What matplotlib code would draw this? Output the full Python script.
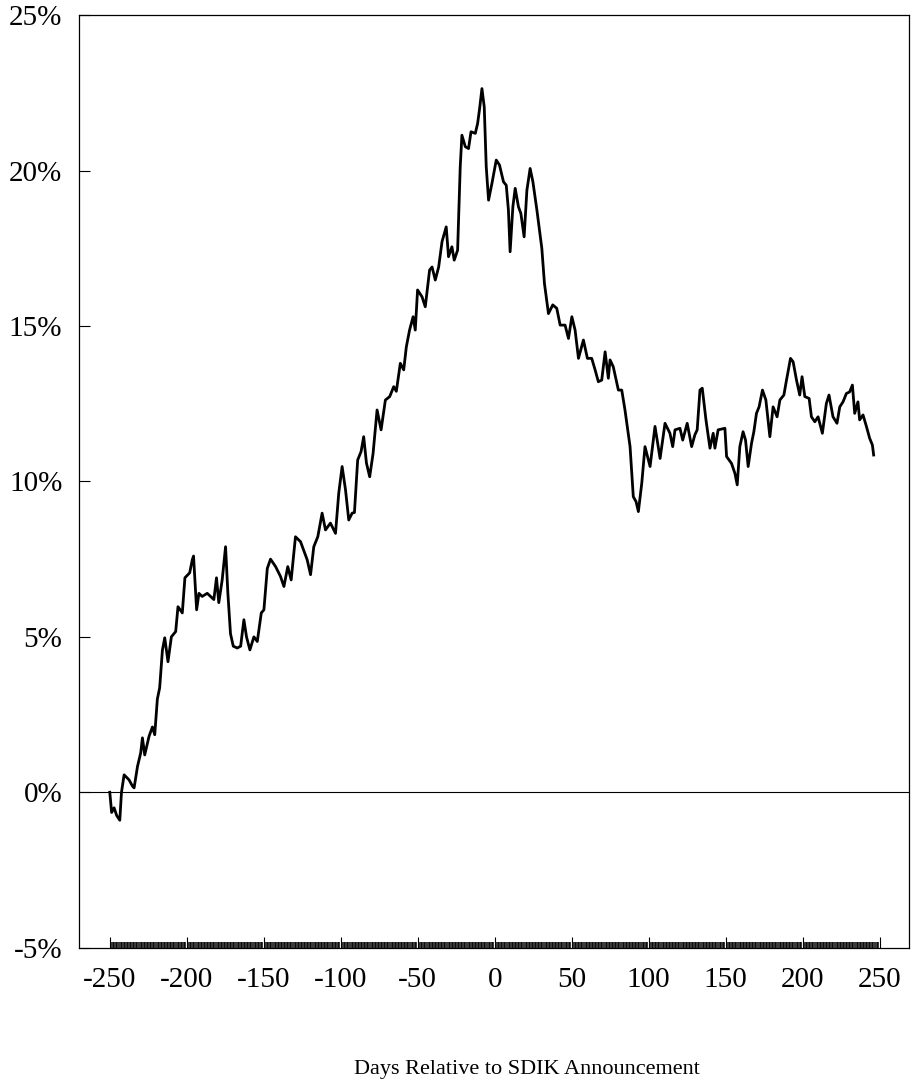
import numpy as np
import matplotlib
matplotlib.use('Agg')
import matplotlib.pyplot as plt
from matplotlib.ticker import FixedLocator, FuncFormatter


# cumulative abnormal return (%), days relative to announcement
DAYS = [
    -250, -248.8, -247.2, -245.5, -243.5, -242.4, -240.7, -237.5, -235.3, -234.2,
    -232.0, -229.9, -228.8, -227.3, -224.5, -222.3, -220.8, -219.1, -217.6, -215.8,
    -214.3, -212.2, -210.0, -207.2, -205.7, -202.9, -201.2, -198.1, -196.4, -195.6,
    -193.6, -192.1, -190.0, -186.7, -184.6, -182.4, -180.7, -179.2, -177.0, -174.8,
    -173.3, -171.6, -169.8, -167.2, -165.0, -162.9, -161.2, -159.0, -156.4, -154.2,
    -151.6, -149.9, -147.7, -145.6, -142.3, -139.1, -136.9, -134.4, -132.2, -129.4,
    -126.1, -121.8, -119.6, -117.5, -114.9, -112.1, -109.9, -106.7, -103.4, -101.3,
    -99.1, -96.9, -94.8, -92.6, -91.1, -89.0, -86.8, -85.1, -83.3, -81.2,
    -79.0, -76.4, -73.8, -71.0, -68.2, -65.6, -63.9, -61.3, -59.1, -57.4,
    -55.3, -53.0, -51.6, -50.1, -47.2, -45.1, -42.3, -40.7, -38.6, -36.4,
    -34.2, -31.5, -30.0, -27.8, -26.3, -24.1, -22.4, -21.3, -19.1, -17.0,
    -15.4, -12.6, -11.1, -9.8, -8.3, -6.8, -5.5, -4.0, -1.8, 1.0,
    3.1, 5.7, 7.5, 8.9, 10.0, 11.8, 13.3, 15.4, 17.0, 19.1,
    20.9, 23.0, 24.8, 27.4, 30.6, 32.3, 34.9, 37.7, 40.3, 42.5,
    45.7, 47.9, 50.1, 52.2, 54.4, 57.6, 60.2, 63.0, 65.2, 67.3,
    69.5, 71.7, 73.8, 74.9, 77.0, 80.3, 82.5, 84.6, 87.9, 90.0,
    91.8, 93.3, 95.5, 97.6, 100.9, 104.1, 107.4, 110.6, 113.8, 115.6,
    117.1, 120.3, 122.1, 125.0, 127.9, 130.0, 131.5, 133.3, 134.8, 137.2,
    139.8, 141.9, 143.0, 145.1, 149.5, 150.6, 153.8, 156.0, 157.5, 159.2,
    161.3, 162.9, 164.6, 166.8, 168.3, 170.0, 171.7, 173.9, 176.1, 178.7,
    180.8, 183.4, 185.2, 187.8, 189.5, 192.1, 193.8, 196.0, 198.1, 199.6,
    201.4, 204.2, 205.7, 207.9, 210.0, 212.8, 215.4, 217.1, 219.7, 222.3,
    224.1, 226.2, 228.4, 230.5, 232.3, 233.8, 235.9, 237.0, 239.2, 241.4,
    243.5, 245.3, 246.1,
]
CAR = [
    0.0, -0.65, -0.5, -0.75, -0.9, 0.0, 0.56, 0.4, 0.2, 0.14,
    0.83, 1.27, 1.75, 1.2, 1.8, 2.1, 1.85, 3.0, 3.36, 4.58,
    4.97, 4.2, 5.0, 5.17, 5.97, 5.77, 6.9, 7.06, 7.48, 7.6,
    5.87, 6.4, 6.3, 6.4, 6.3, 6.2, 6.9, 6.1, 6.83, 7.9,
    6.4, 5.1, 4.7, 4.64, 4.7, 5.55, 5.0, 4.58, 5.0, 4.85,
    5.77, 5.87, 7.2, 7.5, 7.26, 6.94, 6.62, 7.26, 6.83, 8.22,
    8.06, 7.48, 7.0, 7.9, 8.22, 8.98, 8.44, 8.66, 8.33, 9.62,
    10.48, 9.73, 8.76, 8.98, 9.0, 10.69, 10.96, 11.44, 10.59, 10.15,
    10.9, 12.3, 11.66, 12.62, 12.73, 13.05, 12.9, 13.8, 13.59, 14.33,
    14.87, 15.3, 14.87, 16.16, 15.94, 15.62, 16.8, 16.9, 16.48, 16.9,
    17.72, 18.19, 17.23, 17.55, 17.12, 17.44, 20.12, 21.14, 20.77, 20.71,
    21.25, 21.2, 21.52, 22.0, 22.64, 22.05, 20.12, 19.05, 19.59, 20.34,
    20.18, 19.64, 19.53, 18.73, 17.39, 18.84, 19.43, 18.84, 18.62, 17.87,
    19.37, 20.07, 19.64, 18.73, 17.5, 16.37, 15.4, 15.68, 15.57, 15.03,
    15.03, 14.6, 15.3, 14.87, 13.96, 14.55, 13.96, 13.96, 13.59, 13.21,
    13.26, 14.17, 13.32, 13.91, 13.69, 12.94, 12.94, 12.3, 11.12, 9.51,
    9.35, 9.03, 9.94, 11.12, 10.48, 11.77, 10.74, 11.87, 11.55, 11.12,
    11.66, 11.71, 11.33, 11.87, 11.12, 11.5, 11.66, 12.94, 13.0, 11.98,
    11.07, 11.55, 11.07, 11.66, 11.71, 10.8, 10.58, 10.26, 9.89, 11.12,
    11.6, 11.33, 10.48, 11.23, 11.6, 12.19, 12.4, 12.94, 12.62, 11.44,
    12.4, 12.08, 12.62, 12.78, 13.26, 13.96, 13.85, 13.26, 12.78, 13.37,
    12.73, 12.67, 12.08, 11.92, 12.08, 11.55, 12.51, 12.78, 12.08, 11.87,
    12.4, 12.56, 12.83, 12.88, 13.1, 12.19, 12.56, 11.98, 12.14, 11.77,
    11.39, 11.17, 10.85,
]

X_TICKS = [-250, -200, -150, -100, -50, 0, 50, 100, 150, 200, 250]
Y_TICKS = [-5, 0, 5, 10, 15, 20, 25]
X_LABEL = 'Days Relative to SDIK Announcement'


def main():
    plt.rcParams['font.family'] = ['Liberation Serif', 'DejaVu Serif']
    plt.rcParams['axes.unicode_minus'] = False

    fig = plt.figure(figsize=(9.11, 10.88), dpi=100)
    ax = fig.add_axes([0.0867, 0.129, 0.911, 0.857])

    ax.plot(DAYS, CAR, color='black', lw=2.0, solid_joinstyle='round')
    ax.axhline(0, color='black', lw=0.8)

    ax.set_xlim(-270, 269)
    ax.set_ylim(-5, 25)

    ax.set_xticks(X_TICKS)
    # daily minor ticks make the dark band along the bottom axis
    ax.xaxis.set_minor_locator(FixedLocator(np.arange(-250, 251, 1)))
    ax.set_yticks(Y_TICKS)
    ax.yaxis.set_major_formatter(FuncFormatter(lambda v, _: f'{int(v)}%'))

    ax.tick_params(axis='both', which='major', direction='in', length=8, width=0.8,
                   labelsize=21, colors='black')
    ax.tick_params(axis='y', which='major', pad=12)
    ax.tick_params(axis='x', which='major', pad=14)
    ax.tick_params(axis='x', which='minor', direction='in', length=4, width=1.1)

    for s in ax.spines.values():
        s.set_linewidth(0.9)
        s.set_color('black')

    ax.set_xlabel(X_LABEL, fontsize=16)
    ax.xaxis.set_label_coords(0.54, -0.12)

    fig.savefig('out.png', dpi=100)
    plt.close(fig)


if __name__ == '__main__':
    main()
